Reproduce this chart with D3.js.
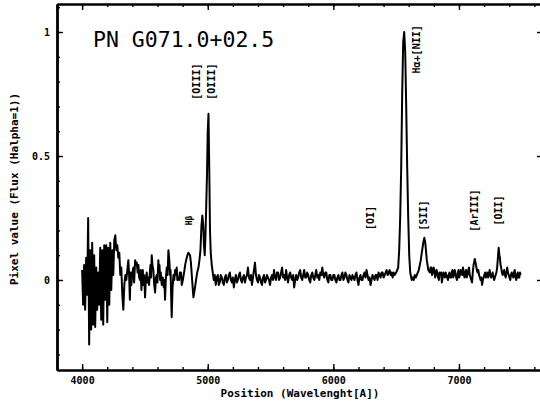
<!DOCTYPE html>
<html>
<head>
<meta charset="utf-8">
<script src="https://cdn.jsdelivr.net/npm/d3@7"></script>
<style>
  body { margin: 0; background: #fff; }
  text { font-family: "DejaVu Sans Mono", monospace; fill: #000; }
</style>
</head>
<body>
<svg id="svgHolder"></svg>
<script>
// spectrum of PN G071.0+02.5, [wavelength (A), flux (Halpha=1)]
let spectrum = [
  [4000,0.04],[4008,-0.10],[4016,0.06],[4024,-0.12],[4032,0.09],[4040,-0.06],[4048,0.25],[4056,-0.26],
  [4064,0.12],[4072,-0.20],[4080,0.15],[4088,-0.18],[4096,0.10],[4104,-0.19],[4112,0.05],[4120,-0.12],
  [4128,0.03],[4136,-0.10],[4144,0.13],[4152,-0.16],[4160,0.12],[4168,-0.18],[4176,0.14],[4184,-0.08],
  [4192,0.14],[4200,-0.17],[4208,0.13],[4216,-0.10],[4224,0.15],[4232,-0.04],[4240,0.12],[4248,0.02],
  [4256,0.16],[4264,0.18],[4272,0.12],[4280,0.14],[4288,0.09],[4296,0.11],[4304,0.02],[4312,0.05],
  [4320,-0.06],[4328,-0.12],[4336,-0.02],[4344,0.02],[4352,0.00],[4360,0.04],[4368,0.08],[4374,0.02],
  [4380,-0.08],[4386,0.03],[4392,-0.02],[4400,0.03],[4408,0.05],[4414,-0.01],[4422,0.08],[4428,0.06],
  [4435,0.07],[4442,0.03],[4448,0.06],[4454,0.01],[4461,0.00],[4466,0.04],[4472,-0.04],[4478,0.01],
  [4483,0.04],[4488,-0.02],[4492,0.02],[4496,0.00],[4501,-0.07],[4508,0.01],[4514,0.03],[4520,-0.01],
  [4524,0.01],[4533,-0.02],[4538,0.02],[4544,0.06],[4549,0.01],[4554,0.10],[4560,0.06],[4567,0.04],
  [4574,-0.02],[4581,-0.05],[4588,0.01],[4594,0.02],[4600,-0.01],[4607,0.08],[4612,0.03],[4616,0.06],
  [4621,0.00],[4626,0.03],[4634,-0.02],[4642,0.01],[4650,-0.03],[4655,0.00],[4660,-0.08],[4667,0.01],
  [4674,0.05],[4680,0.02],[4687,0.12],[4694,0.08],[4700,0.02],[4704,0.04],[4708,-0.05],[4713,-0.15],
  [4720,-0.03],[4727,0.02],[4734,0.00],[4740,0.04],[4746,0.02],[4753,0.05],[4758,0.00],[4762,0.01],
  [4772,0.00],[4778,0.03],[4782,0.01],[4787,0.03],[4793,-0.02],[4802,0.00],[4808,0.02],[4812,0.03],
  [4820,0.06],[4828,0.08],[4838,0.10],[4846,0.11],[4859,0.10],[4866,0.07],[4873,0.02],[4880,-0.03],
  [4886,-0.07],[4896,-0.04],[4907,0.00],[4916,0.03],[4926,0.05],[4934,0.08],[4942,0.12],[4950,0.22],
  [4957,0.26],[4964,0.22],[4970,0.14],[4976,0.10],[4982,0.18],[4988,0.30],[4994,0.42],[5000,0.60],
  [5006,0.67],[5012,0.45],[5018,0.20],[5024,0.11],[5032,0.06],[5040,0.03],[5048,0.00],[5056,0.02],
  [5064,-0.02],[5072,0.01],[5080,0.02],[5088,-0.02],[5096,-0.01],[5104,0.02],[5112,0.01],[5120,-0.01],
  [5128,-0.02],[5136,0.01],[5144,0.02],[5152,-0.01],[5160,0.00],[5168,0.02],[5176,0.03],[5184,0.00],
  [5192,-0.01],[5200,0.01],[5208,-0.03],[5216,0.00],[5224,0.02],[5232,-0.01],[5240,0.00],[5248,0.02],
  [5256,0.03],[5264,0.00],[5272,-0.01],[5280,0.01],[5288,0.02],[5296,-0.01],[5304,0.01],[5312,0.02],
  [5320,0.05],[5328,0.01],[5336,0.00],[5344,0.02],[5352,-0.02],[5360,0.01],[5368,0.04],[5376,0.07],
  [5384,0.02],[5392,0.00],[5400,-0.01],[5408,0.02],[5416,0.01],[5424,-0.01],[5432,-0.02],[5440,0.01],
  [5448,0.02],[5456,-0.01],[5464,0.00],[5472,0.02],[5480,0.01],[5488,0.00],[5496,-0.02],[5504,0.01],
  [5512,0.02],[5520,0.00],[5528,0.04],[5536,0.01],[5544,0.00],[5552,0.03],[5560,0.03],[5568,0.00],
  [5576,0.01],[5584,0.03],[5592,0.05],[5600,0.01],[5608,0.02],[5616,0.00],[5624,0.04],[5632,0.01],
  [5640,-0.01],[5648,0.02],[5656,0.03],[5664,0.01],[5672,0.00],[5680,0.02],[5688,-0.03],[5696,0.00],
  [5704,0.02],[5712,0.00],[5720,0.01],[5728,0.03],[5736,0.04],[5744,0.01],[5752,0.00],[5760,0.02],
  [5768,0.04],[5776,0.01],[5784,0.01],[5792,0.03],[5800,0.02],[5808,0.00],[5816,-0.01],[5824,0.02],
  [5832,0.03],[5840,0.01],[5848,0.00],[5856,0.02],[5864,0.04],[5872,0.01],[5880,0.02],[5888,0.00],
  [5896,0.03],[5904,0.02],[5912,0.05],[5920,0.02],[5928,0.01],[5936,0.03],[5944,0.03],[5952,0.00],
  [5960,-0.01],[5968,0.02],[5976,0.02],[5984,0.00],[5992,0.00],[6000,0.02],[6008,0.02],[6016,0.00],
  [6024,-0.01],[6032,0.01],[6040,0.02],[6048,0.00],[6056,0.00],[6064,0.02],[6072,0.03],[6080,0.00],
  [6088,0.01],[6096,0.03],[6104,0.02],[6112,0.00],[6120,-0.01],[6128,0.02],[6136,0.01],[6144,0.00],
  [6152,0.02],[6160,0.01],[6168,0.00],[6176,0.02],[6184,0.03],[6192,0.00],[6200,-0.02],[6208,0.01],
  [6216,0.02],[6224,0.00],[6232,0.00],[6240,0.02],[6248,0.03],[6256,0.01],[6264,0.04],[6272,0.02],
  [6280,0.00],[6288,0.01],[6296,-0.02],[6304,0.00],[6312,0.02],[6320,0.01],[6328,0.00],[6336,0.02],
  [6344,0.02],[6352,0.00],[6360,0.03],[6368,0.02],[6376,0.01],[6384,0.03],[6392,0.03],[6400,0.01],
  [6408,0.02],[6416,0.03],[6424,0.04],[6432,0.02],[6440,0.03],[6448,0.04],[6456,0.02],[6464,0.03],
  [6472,0.01],[6480,0.03],[6488,0.02],[6500,0.03],[6516,0.05],[6524,0.12],[6532,0.25],[6540,0.45],
  [6548,0.75],[6556,0.96],[6564,1.00],[6572,0.92],[6580,0.70],[6588,0.45],[6596,0.25],[6604,0.10],
  [6612,0.03],[6624,0.00],[6632,0.01],[6640,0.00],[6648,0.02],[6656,0.01],[6664,0.02],[6672,0.03],
  [6680,0.04],[6688,0.06],[6696,0.08],[6704,0.11],[6716,0.15],[6724,0.17],[6732,0.15],[6744,0.08],
  [6756,0.04],[6768,0.03],[6774,0.05],[6780,0.05],[6786,0.02],[6792,0.03],[6798,0.05],[6804,0.04],
  [6810,0.01],[6816,0.02],[6822,0.04],[6828,0.03],[6834,0.01],[6840,0.00],[6846,0.03],[6852,0.02],
  [6858,0.03],[6864,-0.01],[6870,0.01],[6876,0.03],[6882,0.02],[6888,0.01],[6894,0.03],[6900,0.02],
  [6906,0.01],[6912,0.00],[6918,0.02],[6924,0.03],[6930,0.01],[6936,0.01],[6942,0.03],[6948,0.04],
  [6954,0.01],[6960,0.02],[6966,0.04],[6972,0.03],[6978,0.01],[6984,0.00],[6990,0.02],[6996,0.04],
  [7002,0.01],[7008,0.02],[7014,0.04],[7020,0.03],[7026,0.02],[7032,0.05],[7038,0.03],[7044,0.01],
  [7050,0.03],[7056,0.04],[7062,0.01],[7068,0.02],[7074,0.04],[7080,0.05],[7086,0.02],[7092,0.01],
  [7098,0.00],[7104,-0.01],[7110,0.03],[7116,0.06],[7126,0.085],[7136,0.06],[7142,0.04],[7148,0.03],
  [7154,0.04],[7160,0.02],[7166,0.01],[7172,0.00],[7178,0.01],[7184,-0.02],[7190,0.00],[7196,0.01],
  [7202,0.02],[7208,0.03],[7214,0.01],[7220,0.02],[7226,0.03],[7232,0.01],[7238,0.02],[7244,0.04],
  [7250,0.02],[7256,0.01],[7262,0.02],[7268,0.03],[7274,0.01],[7280,0.00],[7286,0.01],[7292,0.02],
  [7298,0.03],[7304,0.05],[7310,0.09],[7316,0.13],[7322,0.10],[7326,0.09],[7331,0.06],[7336,0.05],
  [7342,0.03],[7348,0.02],[7354,0.03],[7360,0.04],[7366,0.02],[7372,0.01],[7378,0.03],[7384,0.05],
  [7390,0.03],[7396,0.02],[7402,0.01],[7408,0.00],[7414,0.02],[7420,0.03],[7426,0.02],[7432,0.01],
  [7438,0.03],[7444,0.04],[7450,0.01],[7456,0.00],[7462,0.02],[7468,0.03],[7474,0.01],[7480,0.01],
  [7486,0.03],[7490,0.02]
];

// line identifications: label, wavelength of label, flux level of label centre
let lineNames = ['[OIII]', '[OIII]', 'H\u03b1+[NII]', '[OI]', '[SII]', '[ArIII]', '[OII]', 'H\u03b2'];
let lineWaves = [4914, 5026, 6658, 6292, 6721, 7127, 7311, 4851];
let lineLevels = [0.80, 0.80, 0.93, 0.25, 0.26, 0.28, 0.28, 0.24];

let xMajor = [4000, 5000, 6000, 7000];
let xMinor = d3.range(3800, 7700, 200);
let yMajor = [0, 0.5, 1];
let yMinor = d3.range(-3, 12).map(d => d / 10);

let title = 'PN G071.0+02.5';
let xLabel = 'Position (Wavelenght[A])';
let yLabel = 'Pixel value (Flux (Halpha=1))';

let width = 540;
let height = 401;
let padLeft = 57, padRight = 542, padTop = 4, padBottom = 370;

let svg = d3.select('#svgHolder').attr('width', width).attr('height', height);

let xScale = d3.scaleLinear().domain([3800, 7661]).range([padLeft, padRight]);
let yScale = d3.scaleLinear().domain([-0.363, 1.113]).range([padBottom, padTop]);

function styleAxis(g, w) {
    g.select('.domain').attr('stroke-width', w);
    g.selectAll('.tick line').attr('stroke-width', 1.4);
    g.selectAll('.tick text')
        .style('font-family', '"DejaVu Sans Mono", monospace')
        .style('font-weight', 'bold')
        .style('font-size', '10px');
}

// bottom
svg.append('g').attr('transform', 'translate(0,' + padBottom + ')')
    .call(d3.axisBottom(xScale).tickValues(xMinor).tickSize(-3).tickSizeOuter(0).tickFormat(''))
    .call(g => styleAxis(g, 2.2));
svg.append('g').attr('transform', 'translate(0,' + padBottom + ')')
    .call(d3.axisBottom(xScale).tickValues(xMajor).tickSize(-6).tickSizeOuter(0).tickPadding(7).tickFormat(d3.format('d')))
    .call(g => styleAxis(g, 2.2));

// top
svg.append('g').attr('transform', 'translate(0,' + padTop + ')')
    .call(d3.axisTop(xScale).tickValues(xMinor).tickSize(-3).tickSizeOuter(0).tickFormat(''))
    .call(g => styleAxis(g, 2.2));
svg.append('g').attr('transform', 'translate(0,' + padTop + ')')
    .call(d3.axisTop(xScale).tickValues(xMajor).tickSize(-6).tickSizeOuter(0).tickFormat(''))
    .call(g => styleAxis(g, 2.2));

// left
svg.append('g').attr('transform', 'translate(' + padLeft + ',0)')
    .call(d3.axisLeft(yScale).tickValues(yMinor).tickSize(-3).tickSizeOuter(0).tickFormat(''))
    .call(g => styleAxis(g, 2.4));
svg.append('g').attr('transform', 'translate(' + padLeft + ',0)')
    .call(d3.axisLeft(yScale).tickValues(yMajor).tickSize(-6).tickSizeOuter(0).tickPadding(7).tickFormat(d3.format('~g')))
    .call(g => styleAxis(g, 2.4));

// right
svg.append('g').attr('transform', 'translate(' + padRight + ',0)')
    .call(d3.axisRight(yScale).tickValues(yMajor).tickSize(-5).tickSizeOuter(0).tickFormat(''))
    .call(g => styleAxis(g, 2));

// spectrum
let line = d3.line()
    .x(d => xScale(d[0]))
    .y(d => yScale(d[1]));

svg.append('path')
    .datum(spectrum)
    .attr('d', line)
    .attr('fill', 'none')
    .attr('stroke', '#000')
    .attr('stroke-width', 2)
    .attr('stroke-linejoin', 'round');

// line labels
svg.selectAll('.lineLabel')
    .data(lineNames)
    .enter()
    .append('text')
    .attr('class', 'lineLabel')
    .attr('transform', (d, i) => 'translate(' + xScale(lineWaves[i]) + ',' + yScale(lineLevels[i]) + ') rotate(-90)')
    .attr('text-anchor', 'middle')
    .attr('dy', '0.35em')
    .style('font-weight', 'bold')
    .style('font-size', (d, i) => (i === 7 ? '8px' : '10px'))
    .text(d => d);

// title and axis labels
svg.append('text')
    .attr('x', 93)
    .attr('y', 47)
    .style('font-size', '21.5px')
    .text(title);

svg.append('text')
    .attr('x', 300)
    .attr('y', 397)
    .attr('text-anchor', 'middle')
    .style('font-weight', 'bold')
    .style('font-size', '11px')
    .text(xLabel);

svg.append('text')
    .attr('transform', 'translate(18,189) rotate(-90)')
    .attr('text-anchor', 'middle')
    .style('font-weight', 'bold')
    .style('font-size', '11px')
    .text(yLabel);
</script>
</body>
</html>
